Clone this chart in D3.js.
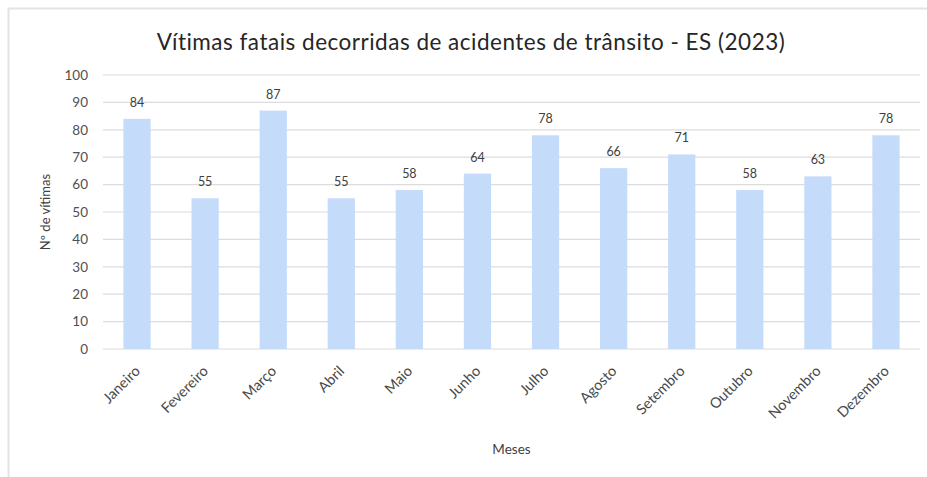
<!DOCTYPE html>
<html>
<head>
<meta charset="utf-8">
<script src="https://cdn.jsdelivr.net/npm/d3@7"></script>
<style>
  html, body { margin: 0; padding: 0; background: #ffffff; }
  svg { display: block; }
  text { font-family: Lato, "Open Sans", sans-serif; }
</style>
</head>
<body>
<script>
// Monthly road-traffic fatalities, Espírito Santo, 2023
const months = ["Janeiro", "Fevereiro", "Março", "Abril", "Maio", "Junho",
                "Julho", "Agosto", "Setembro", "Outubro", "Novembro", "Dezembro"];
const victims = [84, 55, 87, 55, 58, 64, 78, 66, 71, 58, 63, 78];
const yTicks = [0, 10, 20, 30, 40, 50, 60, 70, 80, 90, 100];

const W = 927, H = 477;
const margin = { left: 103, right: 7, top: 75, bottom: 128 };

const svg = d3.select("body").append("svg")
  .attr("width", W).attr("height", H);

// chart frame (top and left edges)
svg.append("path")
  .attr("d", `M8.5,${H} V8.5 H${W}`)
  .attr("fill", "none")
  .attr("stroke", "#e3e3e3")
  .attr("stroke-width", 2);

const x = d3.scaleBand()
  .domain(months)
  .range([margin.left, W - margin.right])
  .paddingInner(0.6)
  .paddingOuter(0.3);

const y = d3.scaleLinear()
  .domain([0, 100])
  .range([H - margin.bottom, margin.top]);

// gridlines
svg.append("g")
  .selectAll("line")
  .data(yTicks)
  .join("line")
  .attr("x1", margin.left).attr("x2", W - margin.right)
  .attr("y1", d => y(d)).attr("y2", d => y(d))
  .attr("stroke", "#dcdcdc")
  .attr("stroke-width", 1.2);

// y axis labels
const yAxis = d3.axisLeft(y).tickValues(yTicks).tickSize(0).tickPadding(15);
const gy = svg.append("g")
  .attr("transform", `translate(${margin.left},0)`)
  .call(yAxis);
gy.select(".domain").remove();
gy.selectAll("text")
  .attr("font-size", 13.5)
  .attr("fill", "#505050")
  .style("font-family", "Lato, sans-serif");

// bars
svg.append("g")
  .selectAll("rect")
  .data(victims)
  .join("rect")
  .attr("x", (d, i) => x(months[i]))
  .attr("width", x.bandwidth())
  .attr("y", d => y(d))
  .attr("height", d => y(0) - y(d))
  .attr("fill", "#c5dbfa");

// value labels
svg.append("g")
  .selectAll("text")
  .data(victims)
  .join("text")
  .attr("x", (d, i) => x(months[i]) + x.bandwidth() / 2)
  .attr("y", d => y(d) - 12)
  .attr("text-anchor", "middle")
  .attr("font-size", 12.5)
  .attr("fill", "#404040")
  .text(d => d);

// x axis: rotated month names
const xAxis = d3.axisBottom(x).tickSize(0).tickPadding(0);
const gx = svg.append("g")
  .attr("transform", `translate(0,${y(0)})`)
  .call(xAxis);
gx.select(".domain").remove();
gx.selectAll("text")
  .attr("font-size", 14.5)
  .attr("fill", "#4a4a4a")
  .style("font-family", "Lato, sans-serif")
  .attr("text-anchor", "end")
  .attr("dy", 0)
  .attr("transform", "translate(4,23) rotate(-45)");

// title
svg.append("text")
  .attr("x", 471).attr("y", 50)
  .attr("text-anchor", "middle")
  .attr("font-size", 22.5)
  .attr("letter-spacing", 0.5)
  .attr("fill", "#262626")
  .text("Vítimas fatais decorridas de acidentes de trânsito - ES (2023)");

// axis titles
svg.append("text")
  .attr("transform", `translate(50,${(y(0) + y(100)) / 2}) rotate(-90)`)
  .attr("text-anchor", "middle")
  .attr("font-size", 13)
  .attr("fill", "#404040")
  .text("Nº de vítimas");

svg.append("text")
  .attr("x", (margin.left + W - margin.right) / 2)
  .attr("y", 454)
  .attr("text-anchor", "middle")
  .attr("font-size", 13.5)
  .attr("fill", "#404040")
  .text("Meses");
</script>
</body>
</html>
